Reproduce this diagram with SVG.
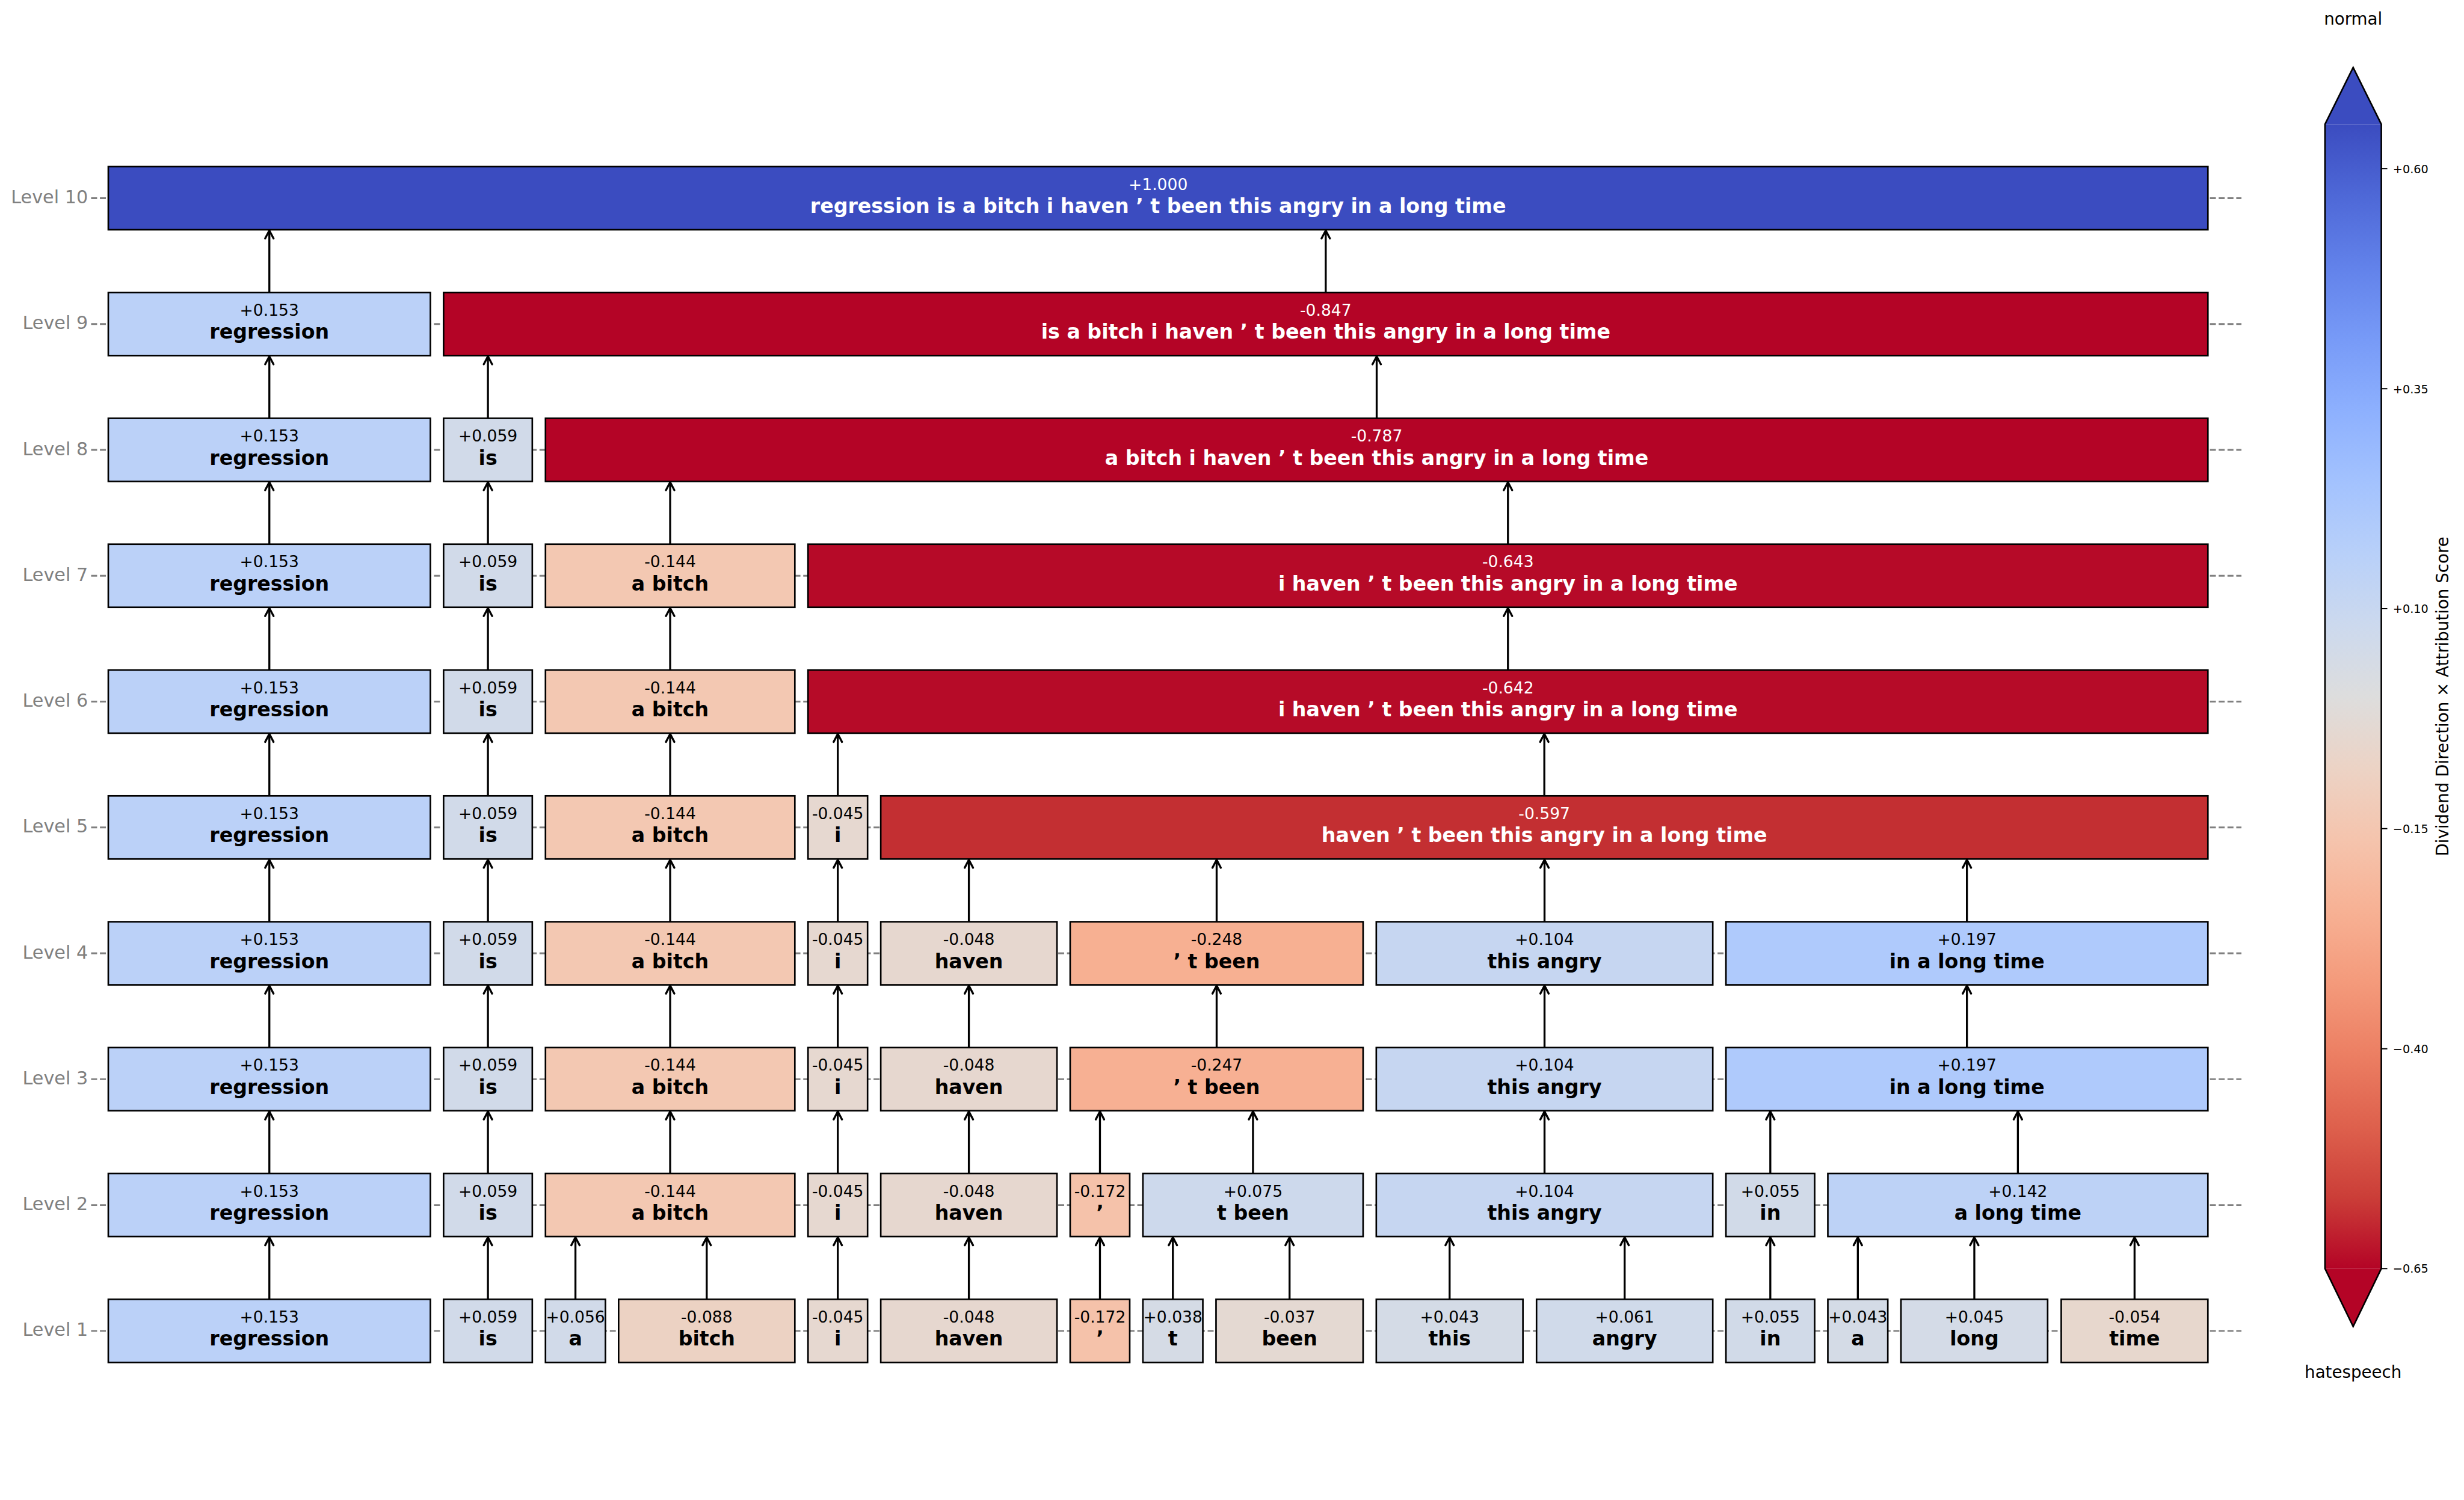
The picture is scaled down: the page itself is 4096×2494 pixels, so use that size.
<svg xmlns="http://www.w3.org/2000/svg" width="4096" height="2494" viewBox="0 0 4096 2494">
<style>
text{font-family:"DejaVu Sans","Liberation Sans",sans-serif}
.bx{stroke:#000;stroke-width:4}
.v{font-size:40px;text-anchor:middle;fill:#000}
.t{font-size:50px;font-weight:bold;text-anchor:middle;fill:#000}
.w{fill:#fff}
.lvl{font-size:45.5px;text-anchor:end;fill:#808080}
.grid{stroke:#808080;stroke-width:4.2;stroke-dasharray:15 7;fill:none}
.arr{stroke:#000;stroke-width:5;fill:none;marker-end:url(#ah)}
.tk{stroke:#000;stroke-width:3}
.tl{font-size:29px;fill:#000}
.cl{font-size:41.7px;fill:#000;text-anchor:middle}
</style>
<defs>
<marker id="ah" markerUnits="userSpaceOnUse" viewBox="-26 -15 32 30" markerWidth="32" markerHeight="30" refX="0" refY="0" orient="auto" overflow="visible">
<path d="M-20,-10.5L0,0L-20,10.5" fill="none" stroke="#000" stroke-width="5" stroke-linecap="round" stroke-linejoin="round"/>
</marker>
<linearGradient id="cw" x1="0" y1="0" x2="0" y2="1">
<stop offset="0" stop-color="#3b4cc0"/>
<stop offset="0.0625" stop-color="#4e68d7"/>
<stop offset="0.125" stop-color="#6282ea"/>
<stop offset="0.1875" stop-color="#779af7"/>
<stop offset="0.25" stop-color="#8db0fe"/>
<stop offset="0.3125" stop-color="#a3c2fe"/>
<stop offset="0.375" stop-color="#b8d0f9"/>
<stop offset="0.4375" stop-color="#ccd9ee"/>
<stop offset="0.5" stop-color="#dddddd"/>
<stop offset="0.5625" stop-color="#ecd3c5"/>
<stop offset="0.625" stop-color="#f5c4ad"/>
<stop offset="0.6875" stop-color="#f7b194"/>
<stop offset="0.75" stop-color="#f49a7b"/>
<stop offset="0.8125" stop-color="#ec7f63"/>
<stop offset="0.875" stop-color="#de614d"/>
<stop offset="0.9375" stop-color="#cb3e38"/>
<stop offset="1" stop-color="#b40426"/>
</linearGradient>
</defs>
<rect width="4096" height="2494" fill="#fff"/>
<g transform="scale(0.6643)">
<g id="axis-levels">
<text class="lvl" x="220" y="509">Level 10</text>
<text class="lvl" x="220" y="824">Level 9</text>
<text class="lvl" x="220" y="1139">Level 8</text>
<text class="lvl" x="220" y="1454">Level 7</text>
<text class="lvl" x="220" y="1769">Level 6</text>
<text class="lvl" x="220" y="2084">Level 5</text>
<text class="lvl" x="220" y="2399">Level 4</text>
<text class="lvl" x="220" y="2714">Level 3</text>
<text class="lvl" x="220" y="3029">Level 2</text>
<text class="lvl" x="220" y="3344">Level 1</text>
<path class="grid" d="M228 496H5609M228 811H5609M228 1126H5609M228 1441H5609M228 1756H5609M228 2071H5609M228 2386H5609M228 2701H5609M228 3016H5609M228 3331H5609"/>
</g>

<g id="connectors">
<path class="arr" d="M674 3252V3097"/><path class="arr" d="M1221 3252V3097"/><path class="arr" d="M1440 3252V3097"/><path class="arr" d="M1768.5 3252V3097"/><path class="arr" d="M2096.5 3252V3097"/><path class="arr" d="M2424.5 3252V3097"/><path class="arr" d="M2752.5 3252V3097"/><path class="arr" d="M2935 3252V3097"/><path class="arr" d="M3227 3252V3097"/><path class="arr" d="M3627.5 3252V3097"/><path class="arr" d="M4065.5 3252V3097"/><path class="arr" d="M4430 3252V3097"/><path class="arr" d="M4649 3252V3097"/><path class="arr" d="M4940.5 3252V3097"/><path class="arr" d="M5341.5 3252V3097"/>
<path class="arr" d="M674 2937V2782"/><path class="arr" d="M1221 2937V2782"/><path class="arr" d="M1677 2937V2782"/><path class="arr" d="M2096.5 2937V2782"/><path class="arr" d="M2424.5 2937V2782"/><path class="arr" d="M2752.5 2937V2782"/><path class="arr" d="M3135.5 2937V2782"/><path class="arr" d="M3865 2937V2782"/><path class="arr" d="M4430 2937V2782"/><path class="arr" d="M5049.5 2937V2782"/>
<path class="arr" d="M674 2622V2467"/><path class="arr" d="M1221 2622V2467"/><path class="arr" d="M1677 2622V2467"/><path class="arr" d="M2096.5 2622V2467"/><path class="arr" d="M2424.5 2622V2467"/><path class="arr" d="M3044.5 2622V2467"/><path class="arr" d="M3865 2622V2467"/><path class="arr" d="M4922 2622V2467"/>
<path class="arr" d="M674 2307V2152"/><path class="arr" d="M1221 2307V2152"/><path class="arr" d="M1677 2307V2152"/><path class="arr" d="M2096.5 2307V2152"/><path class="arr" d="M2424.5 2307V2152"/><path class="arr" d="M3044.5 2307V2152"/><path class="arr" d="M3865 2307V2152"/><path class="arr" d="M4922 2307V2152"/>
<path class="arr" d="M674 1992V1837"/><path class="arr" d="M1221 1992V1837"/><path class="arr" d="M1677 1992V1837"/><path class="arr" d="M2096.5 1992V1837"/><path class="arr" d="M3864.5 1992V1837"/>
<path class="arr" d="M674 1677V1522"/><path class="arr" d="M1221 1677V1522"/><path class="arr" d="M1677 1677V1522"/><path class="arr" d="M3773.5 1677V1522"/>
<path class="arr" d="M674 1362V1207"/><path class="arr" d="M1221 1362V1207"/><path class="arr" d="M1677 1362V1207"/><path class="arr" d="M3773.5 1362V1207"/>
<path class="arr" d="M674 1047V892"/><path class="arr" d="M1221 1047V892"/><path class="arr" d="M3445 1047V892"/>
<path class="arr" d="M674 732V577"/><path class="arr" d="M3317.5 732V577"/>
</g>

<!-- Level 10 -->
<g id="n10-1"><rect class="bx" x="271" y="417" width="5254" height="158" fill="#3b4cc0"/><text class="v w" x="2898" y="475">+1.000</text><text class="t w" x="2898" y="533">regression is a bitch i haven ’ t been this angry in a long time</text></g>

<!-- Level 9 -->
<g id="n9-1"><rect class="bx" x="271" y="732" width="806" height="158" fill="#bbd1f8"/><text class="v" x="674" y="790">+0.153</text><text class="t" x="674" y="848">regression</text></g>
<g id="n9-2"><rect class="bx" x="1110" y="732" width="4415" height="158" fill="#b40426"/><text class="v w" x="3317.5" y="790">-0.847</text><text class="t w" x="3317.5" y="848">is a bitch i haven ’ t been this angry in a long time</text></g>

<!-- Level 8 -->
<g id="n8-1"><rect class="bx" x="271" y="1047" width="806" height="158" fill="#bbd1f8"/><text class="v" x="674" y="1105">+0.153</text><text class="t" x="674" y="1163">regression</text></g>
<g id="n8-2"><rect class="bx" x="1110" y="1047" width="222" height="158" fill="#d1dae9"/><text class="v" x="1221" y="1105">+0.059</text><text class="t" x="1221" y="1163">is</text></g>
<g id="n8-3"><rect class="bx" x="1365" y="1047" width="4160" height="158" fill="#b40426"/><text class="v w" x="3445" y="1105">-0.787</text><text class="t w" x="3445" y="1163">a bitch i haven ’ t been this angry in a long time</text></g>

<!-- Level 7 -->
<g id="n7-1"><rect class="bx" x="271" y="1362" width="806" height="158" fill="#bbd1f8"/><text class="v" x="674" y="1420">+0.153</text><text class="t" x="674" y="1478">regression</text></g>
<g id="n7-2"><rect class="bx" x="1110" y="1362" width="222" height="158" fill="#d1dae9"/><text class="v" x="1221" y="1420">+0.059</text><text class="t" x="1221" y="1478">is</text></g>
<g id="n7-3"><rect class="bx" x="1365" y="1362" width="624" height="158" fill="#f3c8b2"/><text class="v" x="1677" y="1420">-0.144</text><text class="t" x="1677" y="1478">a bitch</text></g>
<g id="n7-4"><rect class="bx" x="2022" y="1362" width="3503" height="158" fill="#b60a28"/><text class="v w" x="3773.5" y="1420">-0.643</text><text class="t w" x="3773.5" y="1478">i haven ’ t been this angry in a long time</text></g>

<!-- Level 6 -->
<g id="n6-1"><rect class="bx" x="271" y="1677" width="806" height="158" fill="#bbd1f8"/><text class="v" x="674" y="1735">+0.153</text><text class="t" x="674" y="1793">regression</text></g>
<g id="n6-2"><rect class="bx" x="1110" y="1677" width="222" height="158" fill="#d1dae9"/><text class="v" x="1221" y="1735">+0.059</text><text class="t" x="1221" y="1793">is</text></g>
<g id="n6-3"><rect class="bx" x="1365" y="1677" width="624" height="158" fill="#f3c8b2"/><text class="v" x="1677" y="1735">-0.144</text><text class="t" x="1677" y="1793">a bitch</text></g>
<g id="n6-4"><rect class="bx" x="2022" y="1677" width="3503" height="158" fill="#b60b28"/><text class="v w" x="3773.5" y="1735">-0.642</text><text class="t w" x="3773.5" y="1793">i haven ’ t been this angry in a long time</text></g>

<!-- Level 5 -->
<g id="n5-1"><rect class="bx" x="271" y="1992" width="806" height="158" fill="#bbd1f8"/><text class="v" x="674" y="2050">+0.153</text><text class="t" x="674" y="2108">regression</text></g>
<g id="n5-2"><rect class="bx" x="1110" y="1992" width="222" height="158" fill="#d1dae9"/><text class="v" x="1221" y="2050">+0.059</text><text class="t" x="1221" y="2108">is</text></g>
<g id="n5-3"><rect class="bx" x="1365" y="1992" width="624" height="158" fill="#f3c8b2"/><text class="v" x="1677" y="2050">-0.144</text><text class="t" x="1677" y="2108">a bitch</text></g>
<g id="n5-4"><rect class="bx" x="2022" y="1992" width="149" height="158" fill="#e6d8d0"/><text class="v" x="2096.5" y="2050">-0.045</text><text class="t" x="2096.5" y="2108">i</text></g>
<g id="n5-5"><rect class="bx" x="2204" y="1992" width="3321" height="158" fill="#c32f32"/><text class="v w" x="3864.5" y="2050">-0.597</text><text class="t w" x="3864.5" y="2108">haven ’ t been this angry in a long time</text></g>

<!-- Level 4 -->
<g id="n4-1"><rect class="bx" x="271" y="2307" width="806" height="158" fill="#bbd1f8"/><text class="v" x="674" y="2365">+0.153</text><text class="t" x="674" y="2423">regression</text></g>
<g id="n4-2"><rect class="bx" x="1110" y="2307" width="222" height="158" fill="#d1dae9"/><text class="v" x="1221" y="2365">+0.059</text><text class="t" x="1221" y="2423">is</text></g>
<g id="n4-3"><rect class="bx" x="1365" y="2307" width="624" height="158" fill="#f3c8b2"/><text class="v" x="1677" y="2365">-0.144</text><text class="t" x="1677" y="2423">a bitch</text></g>
<g id="n4-4"><rect class="bx" x="2022" y="2307" width="149" height="158" fill="#e6d8d0"/><text class="v" x="2096.5" y="2365">-0.045</text><text class="t" x="2096.5" y="2423">i</text></g>
<g id="n4-5"><rect class="bx" x="2204" y="2307" width="441" height="158" fill="#e6d7cf"/><text class="v" x="2424.5" y="2365">-0.048</text><text class="t" x="2424.5" y="2423">haven</text></g>
<g id="n4-6"><rect class="bx" x="2678" y="2307" width="733" height="158" fill="#f7b092"/><text class="v" x="3044.5" y="2365">-0.248</text><text class="t" x="3044.5" y="2423">’ t been</text></g>
<g id="n4-7"><rect class="bx" x="3444" y="2307" width="842" height="158" fill="#c6d6f1"/><text class="v" x="3865" y="2365">+0.104</text><text class="t" x="3865" y="2423">this angry</text></g>
<g id="n4-8"><rect class="bx" x="4319" y="2307" width="1206" height="158" fill="#afcafc"/><text class="v" x="4922" y="2365">+0.197</text><text class="t" x="4922" y="2423">in a long time</text></g>

<!-- Level 3 -->
<g id="n3-1"><rect class="bx" x="271" y="2622" width="806" height="158" fill="#bbd1f8"/><text class="v" x="674" y="2680">+0.153</text><text class="t" x="674" y="2738">regression</text></g>
<g id="n3-2"><rect class="bx" x="1110" y="2622" width="222" height="158" fill="#d1dae9"/><text class="v" x="1221" y="2680">+0.059</text><text class="t" x="1221" y="2738">is</text></g>
<g id="n3-3"><rect class="bx" x="1365" y="2622" width="624" height="158" fill="#f3c8b2"/><text class="v" x="1677" y="2680">-0.144</text><text class="t" x="1677" y="2738">a bitch</text></g>
<g id="n3-4"><rect class="bx" x="2022" y="2622" width="149" height="158" fill="#e6d8d0"/><text class="v" x="2096.5" y="2680">-0.045</text><text class="t" x="2096.5" y="2738">i</text></g>
<g id="n3-5"><rect class="bx" x="2204" y="2622" width="441" height="158" fill="#e6d7cf"/><text class="v" x="2424.5" y="2680">-0.048</text><text class="t" x="2424.5" y="2738">haven</text></g>
<g id="n3-6"><rect class="bx" x="2678" y="2622" width="733" height="158" fill="#f7b093"/><text class="v" x="3044.5" y="2680">-0.247</text><text class="t" x="3044.5" y="2738">’ t been</text></g>
<g id="n3-7"><rect class="bx" x="3444" y="2622" width="842" height="158" fill="#c6d6f1"/><text class="v" x="3865" y="2680">+0.104</text><text class="t" x="3865" y="2738">this angry</text></g>
<g id="n3-8"><rect class="bx" x="4319" y="2622" width="1206" height="158" fill="#afcafc"/><text class="v" x="4922" y="2680">+0.197</text><text class="t" x="4922" y="2738">in a long time</text></g>

<!-- Level 2 -->
<g id="n2-1"><rect class="bx" x="271" y="2937" width="806" height="158" fill="#bbd1f8"/><text class="v" x="674" y="2995">+0.153</text><text class="t" x="674" y="3053">regression</text></g>
<g id="n2-2"><rect class="bx" x="1110" y="2937" width="222" height="158" fill="#d1dae9"/><text class="v" x="1221" y="2995">+0.059</text><text class="t" x="1221" y="3053">is</text></g>
<g id="n2-3"><rect class="bx" x="1365" y="2937" width="624" height="158" fill="#f3c8b2"/><text class="v" x="1677" y="2995">-0.144</text><text class="t" x="1677" y="3053">a bitch</text></g>
<g id="n2-4"><rect class="bx" x="2022" y="2937" width="149" height="158" fill="#e6d8d0"/><text class="v" x="2096.5" y="2995">-0.045</text><text class="t" x="2096.5" y="3053">i</text></g>
<g id="n2-5"><rect class="bx" x="2204" y="2937" width="441" height="158" fill="#e6d7cf"/><text class="v" x="2424.5" y="2995">-0.048</text><text class="t" x="2424.5" y="3053">haven</text></g>
<g id="n2-6"><rect class="bx" x="2678" y="2937" width="149" height="158" fill="#f5c2aa"/><text class="v" x="2752.5" y="2995">-0.172</text><text class="t" x="2752.5" y="3053">’</text></g>
<g id="n2-7"><rect class="bx" x="2860" y="2937" width="551" height="158" fill="#cdd9ec"/><text class="v" x="3135.5" y="2995">+0.075</text><text class="t" x="3135.5" y="3053">t been</text></g>
<g id="n2-8"><rect class="bx" x="3444" y="2937" width="842" height="158" fill="#c6d6f1"/><text class="v" x="3865" y="2995">+0.104</text><text class="t" x="3865" y="3053">this angry</text></g>
<g id="n2-9"><rect class="bx" x="4319" y="2937" width="222" height="158" fill="#d1dae8"/><text class="v" x="4430" y="2995">+0.055</text><text class="t" x="4430" y="3053">in</text></g>
<g id="n2-10"><rect class="bx" x="4574" y="2937" width="951" height="158" fill="#bdd2f6"/><text class="v" x="5049.5" y="2995">+0.142</text><text class="t" x="5049.5" y="3053">a long time</text></g>

<!-- Level 1 -->
<g id="n1-1"><rect class="bx" x="271" y="3252" width="806" height="158" fill="#bbd1f8"/><text class="v" x="674" y="3310">+0.153</text><text class="t" x="674" y="3368">regression</text></g>
<g id="n1-2"><rect class="bx" x="1110" y="3252" width="222" height="158" fill="#d1dae9"/><text class="v" x="1221" y="3310">+0.059</text><text class="t" x="1221" y="3368">is</text></g>
<g id="n1-3"><rect class="bx" x="1365" y="3252" width="150" height="158" fill="#d1dae9"/><text class="v" x="1440" y="3310">+0.056</text><text class="t" x="1440" y="3368">a</text></g>
<g id="n1-4"><rect class="bx" x="1548" y="3252" width="441" height="158" fill="#ecd2c3"/><text class="v" x="1768.5" y="3310">-0.088</text><text class="t" x="1768.5" y="3368">bitch</text></g>
<g id="n1-5"><rect class="bx" x="2022" y="3252" width="149" height="158" fill="#e6d8d0"/><text class="v" x="2096.5" y="3310">-0.045</text><text class="t" x="2096.5" y="3368">i</text></g>
<g id="n1-6"><rect class="bx" x="2204" y="3252" width="441" height="158" fill="#e6d7cf"/><text class="v" x="2424.5" y="3310">-0.048</text><text class="t" x="2424.5" y="3368">haven</text></g>
<g id="n1-7"><rect class="bx" x="2678" y="3252" width="149" height="158" fill="#f5c2aa"/><text class="v" x="2752.5" y="3310">-0.172</text><text class="t" x="2752.5" y="3368">’</text></g>
<g id="n1-8"><rect class="bx" x="2860" y="3252" width="150" height="158" fill="#d5dbe5"/><text class="v" x="2935" y="3310">+0.038</text><text class="t" x="2935" y="3368">t</text></g>
<g id="n1-9"><rect class="bx" x="3043" y="3252" width="368" height="158" fill="#e4d9d2"/><text class="v" x="3227" y="3310">-0.037</text><text class="t" x="3227" y="3368">been</text></g>
<g id="n1-10"><rect class="bx" x="3444" y="3252" width="367" height="158" fill="#d4dbe6"/><text class="v" x="3627.5" y="3310">+0.043</text><text class="t" x="3627.5" y="3368">this</text></g>
<g id="n1-11"><rect class="bx" x="3845" y="3252" width="441" height="158" fill="#d0daea"/><text class="v" x="4065.5" y="3310">+0.061</text><text class="t" x="4065.5" y="3368">angry</text></g>
<g id="n1-12"><rect class="bx" x="4319" y="3252" width="222" height="158" fill="#d1dae8"/><text class="v" x="4430" y="3310">+0.055</text><text class="t" x="4430" y="3368">in</text></g>
<g id="n1-13"><rect class="bx" x="4574" y="3252" width="150" height="158" fill="#d4dbe6"/><text class="v" x="4649" y="3310">+0.043</text><text class="t" x="4649" y="3368">a</text></g>
<g id="n1-14"><rect class="bx" x="4757" y="3252" width="367" height="158" fill="#d4dbe7"/><text class="v" x="4940.5" y="3310">+0.045</text><text class="t" x="4940.5" y="3368">long</text></g>
<g id="n1-15"><rect class="bx" x="5158" y="3252" width="367" height="158" fill="#e7d7cd"/><text class="v" x="5341.5" y="3310">-0.054</text><text class="t" x="5341.5" y="3368">time</text></g>

<g id="colorbar">
<polygon points="5818,311 5888.5,169 5959,311" fill="#3b4cc0"/>
<rect x="5818" y="311" width="141" height="2864" fill="url(#cw)"/>
<polygon points="5818,3175 5888.5,3320 5959,3175" fill="#b40426"/>
<path d="M5818 311L5888.5 169L5959 311V3175L5888.5 3320L5818 3175Z" fill="none" stroke="#000" stroke-width="4" stroke-linejoin="miter"/>
<path class="tk" d="M5959 422H5974M5959 973H5974M5959 1523.5H5974M5959 2074H5974M5959 2625H5974M5959 3175H5974"/>
<text class="tl" x="5988" y="433">+0.60</text>
<text class="tl" x="5988" y="984">+0.35</text>
<text class="tl" x="5988" y="1534">+0.10</text>
<text class="tl" x="5988" y="2085">−0.15</text>
<text class="tl" x="5988" y="2636">−0.40</text>
<text class="tl" x="5988" y="3186">−0.65</text>
<text class="cl" x="5888.5" y="62">normal</text>
<text class="cl" x="5888.5" y="3448">hatespeech</text>
<text class="cl" transform="translate(6127,1743) rotate(-90)">Dividend Direction × Attribution Score</text>
</g>
</g>
</svg>
